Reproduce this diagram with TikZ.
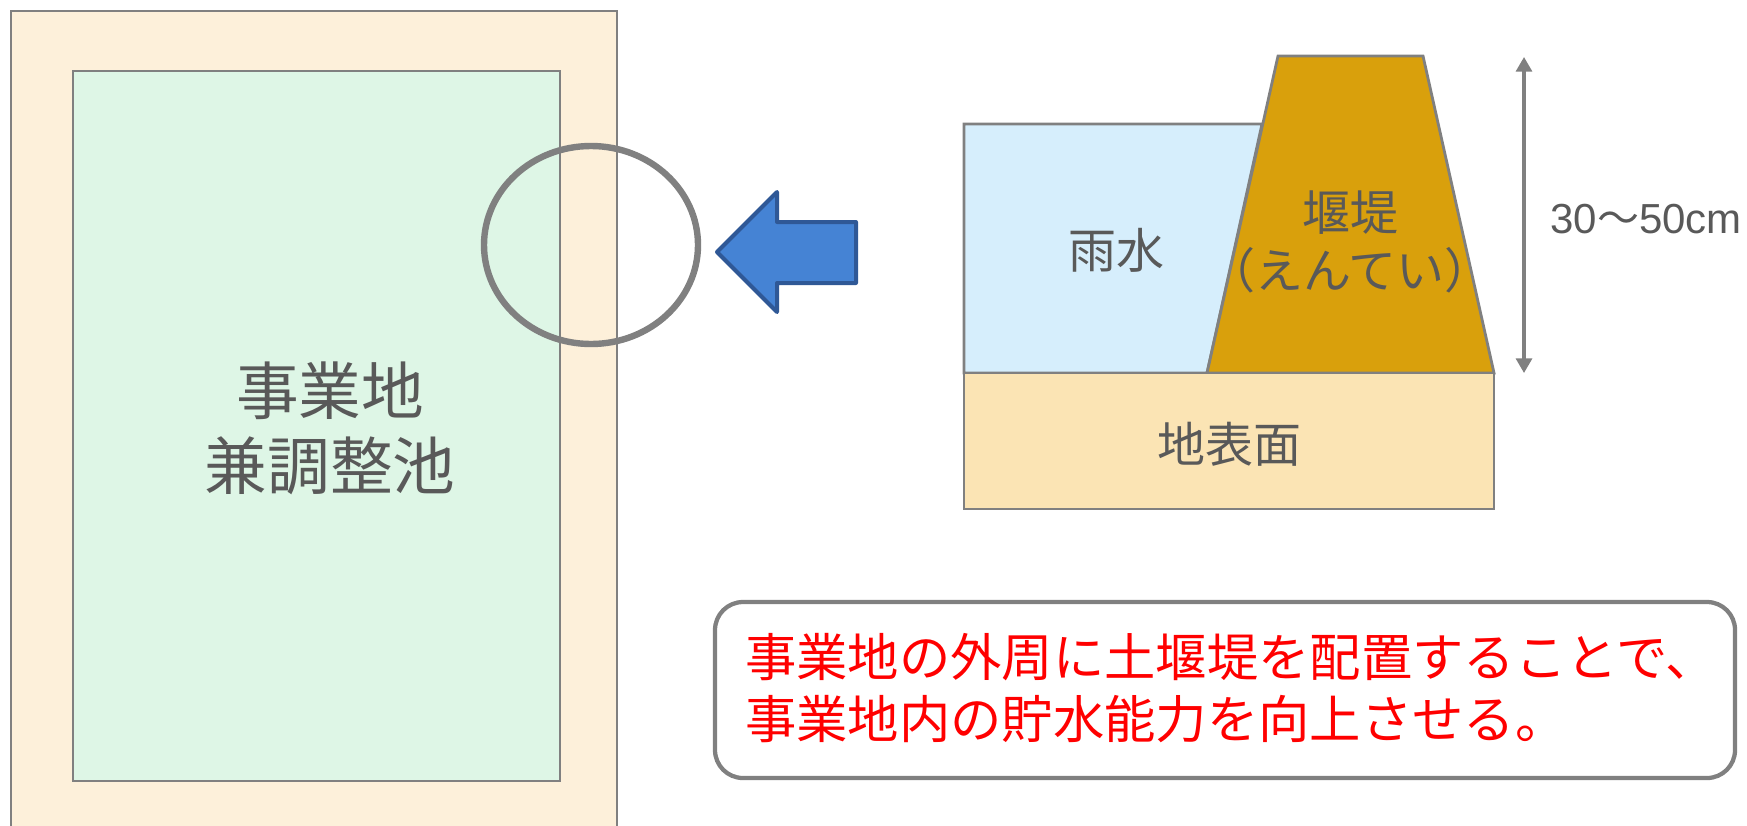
\documentclass[tikz,border=0pt]{standalone}
\usepackage{fontspec}
\usepackage{tikz}
\usetikzlibrary{arrows.meta}
\setmainfont{Liberation Sans}
\newfontfamily\jpfont{Noto Sans CJK JP}

\begin{document}
\begin{tikzpicture}[x=0.75pt,y=0.75pt,yscale=-1,xscale=1,
  outline/.style={draw={rgb, 255:red, 128; green, 128; blue, 128 },line width=2.1pt},
  graytext/.style={text={rgb, 255:red, 89; green, 89; blue, 89 },inner sep=0.75pt,align=center}]
%set diagram left start at 0, and has height of 825
\useasboundingbox (0,0) rectangle (1747,825);

%Shape: Rectangle (site border)
\fill [color={rgb, 255:red, 253; green, 240; blue, 218 }] (11,11) rectangle (617,826) ;
\draw [outline] (11,826) -- (11,11) -- (617,11) -- (617,826) ;
%Shape: Rectangle (site)
\draw [outline,fill={rgb, 255:red, 222; green, 246; blue, 230 }] (73,71) rectangle (560,781) ;
%Shape: Ellipse
\draw [color={rgb, 255:red, 128; green, 128; blue, 128 },line width=4.8pt] (591,245) ellipse [x radius=107, y radius=99] ;
%Shape: Left Arrow
\draw [color={rgb, 255:red, 47; green, 88; blue, 150 },fill={rgb, 255:red, 69; green, 131; blue, 212 },line width=3pt,line join=round] (717,252) -- (777,192) -- (777,222) -- (856,222) -- (856,283) -- (777,283) -- (777,312) -- cycle ;

%Shape: Polygon (rain water)
\draw [outline,fill={rgb, 255:red, 214; green, 238; blue, 252 }] (964,373) -- (964,124) -- (1262,124) -- (1207,373) -- cycle ;
%Shape: Trapezoid (bank)
\draw [outline,fill={rgb, 255:red, 217; green, 160; blue, 12 }] (1207,373) -- (1278,56) -- (1423,56) -- (1494,373) -- cycle ;
%Shape: Rectangle (ground)
\draw [outline,fill={rgb, 255:red, 251; green, 228; blue, 180 }] (964,373) rectangle (1494,509) ;

%Straight Lines (height)
\coordinate (htop) at (1524,57) ;
\coordinate (hbot) at (1524,373) ;
\draw [color={rgb, 255:red, 128; green, 128; blue, 128 },line width=2.4pt,{Triangle[width=12pt,length=11pt]}-{Triangle[width=12pt,length=11pt]}] (htop) -- (hbot) ;

%Rounded Rect (note)
\draw [color={rgb, 255:red, 128; green, 128; blue, 128 },line width=3.2pt,rounded corners=21pt] (715,602) rectangle (1735,778) ;

% Text Node
\node [graytext,font=\jpfont\fontsize{47}{56}\selectfont] (site) at (330,428) {事業地\\兼調整池};
% Text Node
\node [graytext,font=\jpfont\fontsize{36}{43}\selectfont] (rain) at (1116,250) {雨水};
% Text Node
\node [graytext,font=\jpfont\fontsize{36}{43}\selectfont] (bank) at (1350,242) {堰堤\\（えんてい）};
% Text Node
\node [graytext,font=\jpfont\fontsize{36}{43}\selectfont] (ground) at (1229,444) {地表面};
% Text Node
\node [graytext,anchor=west,inner sep=0pt,font=\fontsize{31.5}{38}\selectfont] (height) at (1550,219) {30{\jpfont 〜}50cm};
% Text Node
\node [anchor=west,inner sep=0pt,align=left,text={rgb, 255:red, 255; green, 0; blue, 0 },font=\jpfont\fontsize{38.5}{46.5}\selectfont] (note) at (745,688) {事業地の外周に土堰堤を配置することで、\\事業地内の貯水能力を向上させる。};

\end{tikzpicture}
\end{document}
